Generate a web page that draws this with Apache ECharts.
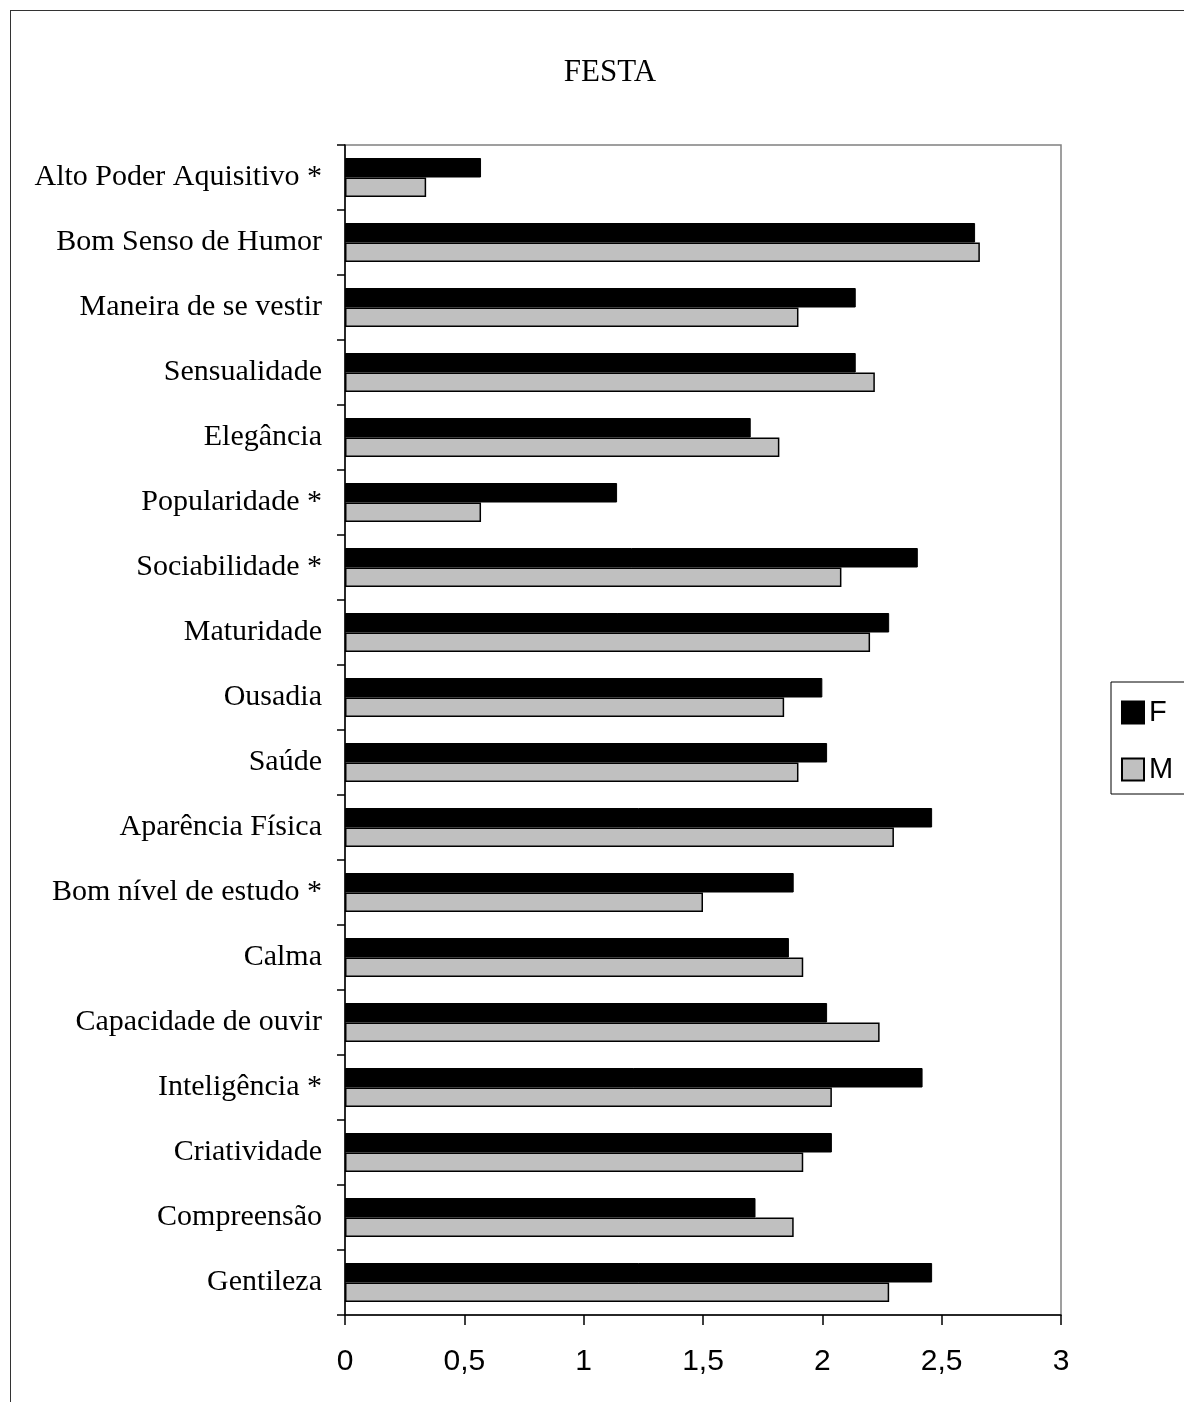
<!DOCTYPE html>
<html>
<head>
<meta charset="utf-8">
<script src="https://cdn.jsdelivr.net/npm/echarts@6/dist/echarts.min.js"></script>
<style>
html,body{margin:0;padding:0;background:#fff;}
#frame{position:absolute;left:10px;top:10px;width:1300px;height:1500px;border:1.5px solid #333;box-sizing:border-box;}
#chart{position:absolute;left:0;top:0;width:1184px;height:1402px;}
</style>
</head>
<body>
<div id="frame"></div>
<div id="chart"></div>
<script>
const titleText = 'FESTA';
const categories = [
  'Alto Poder Aquisitivo *',
  'Bom Senso de Humor',
  'Maneira de se vestir',
  'Sensualidade',
  'Elegância',
  'Popularidade *',
  'Sociabilidade *',
  'Maturidade',
  'Ousadia',
  'Saúde',
  'Aparência Física',
  'Bom nível de estudo *',
  'Calma',
  'Capacidade de ouvir',
  'Inteligência *',
  'Criatividade',
  'Compreensão',
  'Gentileza'
];
const seriesNames = ['F', 'M'];
const valuesF = [0.57, 2.64, 2.14, 2.14, 1.70, 1.14, 2.40, 2.28, 2.00, 2.02, 2.46, 1.88, 1.86, 2.02, 2.42, 2.04, 1.72, 2.46];
const valuesM = [0.34, 2.66, 1.90, 2.22, 1.82, 0.57, 2.08, 2.20, 1.84, 1.90, 2.30, 1.50, 1.92, 2.24, 2.04, 1.92, 1.88, 2.28];
const xTicks = [0, 0.5, 1, 1.5, 2, 2.5, 3];

const chart = echarts.init(document.getElementById('chart'), null, {renderer: 'canvas'});
const option = {
  backgroundColor: 'transparent',
  animation: false,
  title: {
    text: titleText,
    left: 605,
    top: 52,
    textAlign: 'center',
    textStyle: {fontFamily: 'Liberation Serif', fontSize: 31, fontWeight: 'normal', color: '#000'}
  },
  legend: {
    orient: 'vertical',
    left: 1111,
    top: 682,
    data: seriesNames,
    icon: 'rect',
    itemWidth: 22,
    itemHeight: 22,
    itemGap: 28,
    padding: [16, 40, 10, 10],
    borderColor: '#000',
    borderWidth: 1,
    textStyle: {fontFamily: 'Liberation Sans', fontSize: 29, color: '#000', padding: [0, 0, 0, 0]}
  },
  grid: {
    left: 345,
    top: 145,
    right: 123,
    bottom: 87,
    containLabel: false,
    show: true,
    borderColor: '#808080',
    borderWidth: 1.5,
    backgroundColor: 'transparent'
  },
  xAxis: {
    type: 'value',
    min: xTicks[0],
    max: xTicks[xTicks.length - 1],
    interval: 0.5,
    axisLine: {show: true, lineStyle: {color: '#000', width: 1.5}},
    axisTick: {show: true, length: 10, lineStyle: {color: '#000', width: 1.5}},
    splitLine: {show: false},
    axisLabel: {
      margin: 32,
      fontFamily: 'Liberation Sans',
      fontSize: 30,
      color: '#000',
      formatter: v => String(v).replace('.', ',')
    }
  },
  yAxis: {
    type: 'category',
    data: categories,
    inverse: true,
    axisLine: {show: true, lineStyle: {color: '#000', width: 1.5}},
    axisTick: {show: true, length: 8, lineStyle: {color: '#000', width: 1.5}},
    splitLine: {show: false},
    axisLabel: {
      margin: 23,
      fontFamily: 'Liberation Serif',
      fontSize: 30,
      color: '#000'
    }
  },
  series: [
    {
      name: seriesNames[0],
      type: 'bar',
      data: valuesF,
      barGap: '0%',
      barCategoryGap: '40%',
      itemStyle: {color: '#000', borderColor: '#000', borderWidth: 1}
    },
    {
      name: seriesNames[1],
      type: 'bar',
      data: valuesM,
      barGap: '0%',
      barCategoryGap: '40%',
      itemStyle: {color: '#c0c0c0', borderColor: '#000', borderWidth: 1.5}
    }
  ]
};
chart.setOption(option);
</script>
</body>
</html>
